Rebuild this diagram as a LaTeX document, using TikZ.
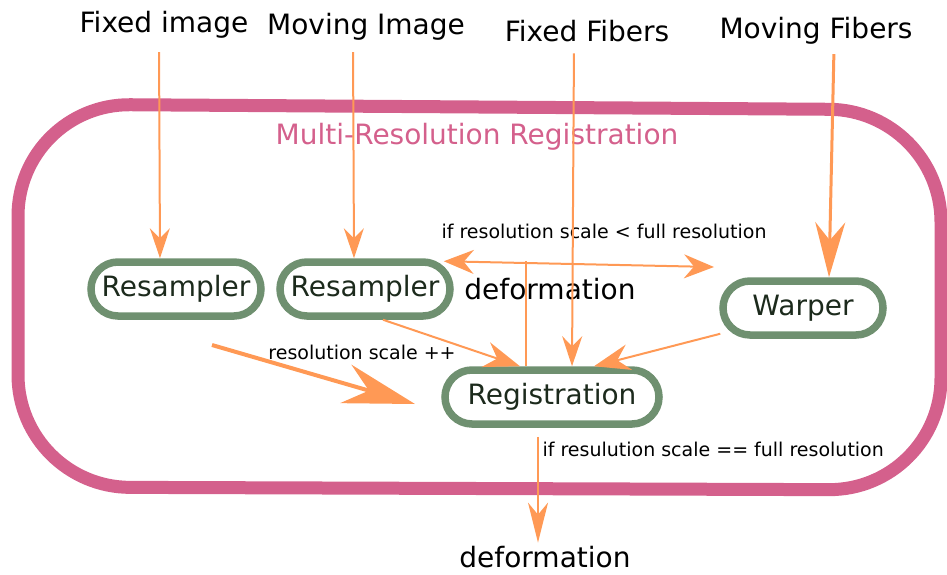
\documentclass[tikz,border=0pt]{standalone}
\usepackage{fontspec}
\setmainfont{DejaVu Sans}
\usepackage{tikz}
\usetikzlibrary{arrows.meta,positioning,calc,shapes.misc}

\definecolor{regpink}{HTML}{D4608C}
\definecolor{boxgreen}{HTML}{6F9070}
\definecolor{boxtext}{HTML}{1C2A1C}
\definecolor{flowor}{HTML}{FF9955}

\tikzset{
  big/.style={font=\fontsize{28}{33}\selectfont},
  small/.style={font=\fontsize{19}{23}\selectfont},
  stage/.style={big,draw=boxgreen,line width=7.5pt,rounded corners=27pt,
    minimum width=170pt,minimum height=54pt,text=boxtext,inner sep=0pt},
  flow/.style={draw=flowor,line width=2pt,-{Stealth[length=30pt,width=20pt,inset=10pt]}},
  heavyflow/.style={draw=flowor,line width=3pt,-{Stealth[length=55pt,width=30pt,inset=18pt]}}
}

\begin{document}
\begin{tikzpicture}[x=1pt,y=-1pt]
  \useasboundingbox (0,0) rectangle (947,574);
  % outer box
  \draw[regpink,line width=13pt,rounded corners=112pt] (18,104) -- (941,110) -- (941,490) -- (18,487) -- cycle;
  \node[big,text=regpink] (title) at (477,137) {Multi-Resolution Registration};

  % inputs
  \node[big] (fimg) at (164,25) {Fixed image};
  \node[big] (mimg) at (366,27) {Moving Image};
  \node[big] (ffib) at (587,31) {Fixed Fibers};
  \node[big] (mfib) at (816,31) {Moving Fibers};

  % stages
  \node[stage] (res1) at (176,289) {Resampler};
  \node[stage] (res2) at (365,289) {Resampler};
  \node[stage,minimum width=160pt] (warp) at (803,308) {Warper};
  \node[stage,minimum width=214pt] (reg) at (552,397) {Registration};
  \node[big] (defm) at (550,289) {deformation};
  \node[big] (dout) at (545,557) {deformation};

  % labels
  \node[small] (lowres) at (604,231) {if resolution scale < full resolution};
  \node[small] (incr) at (362,352) {resolution scale ++};
  \node[small,anchor=west] (fullres) at (539,449) {if resulution scale == full resolution};

  \coordinate (wl) at (714,267);
  \coordinate (tap) at (526,261);
  \coordinate (lo1) at (212,345);
  \coordinate (lo2) at (415,404);

  % connectors
  \draw[flow,shorten <=10pt] ([xshift=-5pt]fimg.south) -- ([xshift=-16pt]res1.north);
  \draw[flow,shorten <=8pt] ([xshift=-13pt]mimg.south) -- ([xshift=-11pt]res2.north);
  \draw[flow,shorten <=8pt] ([xshift=-13pt]ffib.south) -- ([xshift=20pt]reg.north);
  \draw[heavyflow,shorten <=6pt] ([xshift=18pt]mfib.south) -- ([xshift=26pt]warp.north);
  \draw[flow,{Stealth[length=30pt,width=24pt,inset=10pt]}-{Stealth[length=30pt,width=24pt,inset=10pt]}]
    ([shift={(-10,3)}]res2.north east) -- (wl);
  \draw[flowor,line width=1.5pt] (tap) -- (tap |- reg.north);
  \draw[flow,-{Stealth[length=36pt,width=26pt,inset=12pt]}] ([xshift=18pt]res2.south) -- ([xshift=-32pt]reg.north);
  \draw[flow,-{Stealth[length=36pt,width=26pt,inset=12pt]}] ([shift={(1,-5)}]warp.south west) -- ([xshift=42pt]reg.north);
  \draw[draw=flowor,line width=4pt,-{Stealth[length=72pt,width=40pt,inset=24pt]}] (lo1) -- (lo2);
  \draw[flow,-{Stealth[length=40pt,width=20pt,inset=12pt]},shorten <=9pt] ([xshift=-14pt]reg.south) -- ([xshift=-7pt]dout.north);
\end{tikzpicture}
\end{document}
